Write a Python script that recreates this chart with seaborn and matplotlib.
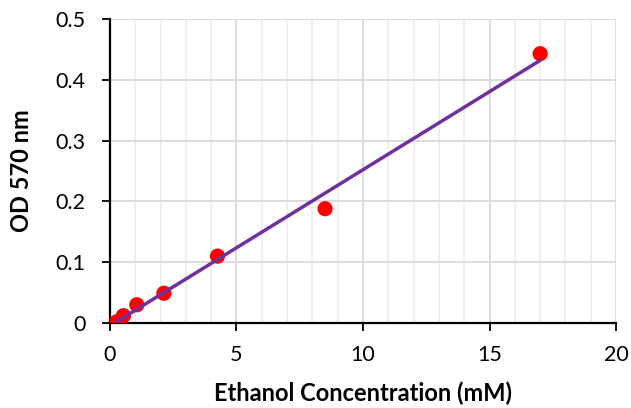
import numpy as np
import pandas as pd
import matplotlib
matplotlib.use('Agg')
import matplotlib.pyplot as plt
import seaborn as sns
from matplotlib.ticker import MultipleLocator

# ethanol standard curve
conc = [0.27, 0.53, 1.06, 2.13, 4.25, 8.5, 17.0]
od = [0.002, 0.012, 0.030, 0.049, 0.110, 0.188, 0.443]
x_ticks = [0, 5, 10, 15, 20]
y_ticks = [0, 0.1, 0.2, 0.3, 0.4, 0.5]
y_tick_labels = ['0', '0.1', '0.2', '0.3', '0.4', '0.5']

df = pd.DataFrame({'conc': conc, 'od': od})

sns.set_style('white')
plt.rcParams['font.family'] = ['Lato', 'DejaVu Sans']

fig = plt.figure(figsize=(6.31, 4.08), dpi=100)
ax = fig.add_axes([0.1743, 0.2083, 0.802, 0.745])

ax.xaxis.set_minor_locator(MultipleLocator(1))
ax.grid(which='major', color='#d9d9d9', linewidth=1.3, zorder=0)
ax.grid(which='minor', axis='x', color='#eeeeee', linewidth=1.3, zorder=0)
ax.set_axisbelow(True)

sns.scatterplot(data=df, x='conc', y='od', color='#ff0000', s=120,
                edgecolor='none', ax=ax, zorder=3)

# linear trend line over the data range
slope, intercept = np.polyfit(conc, od, 1)
xs = np.array([min(conc), max(conc)])
sns.lineplot(x=xs, y=slope * xs + intercept, color='#7030a0', linewidth=2.5,
             ax=ax, zorder=4)

ax.set_xlim(0, 20)
ax.set_ylim(0, 0.5)
ax.set_xticks(x_ticks)
ax.set_yticks(y_ticks)
ax.set_yticklabels(y_tick_labels)

for s in ['top', 'right']:
    ax.spines[s].set_visible(False)
for s in ['left', 'bottom']:
    ax.spines[s].set_color('black')
    ax.spines[s].set_linewidth(1.6)

ax.tick_params(which='major', length=5.5, width=1.3, color='black',
               labelsize=15.5, labelcolor='black', direction='out')
ax.tick_params(axis='x', which='major', bottom=True, pad=10)
ax.tick_params(axis='y', which='major', left=True, pad=12)
ax.tick_params(which='minor', length=0)

ax.set_xlabel('Ethanol Concentration (mM)', fontsize=17, fontweight='bold',
              labelpad=12, color='black')
ax.set_ylabel('OD 570 nm', fontsize=17, fontweight='bold', labelpad=16,
              color='black')

fig.savefig('out.png', dpi=100)
